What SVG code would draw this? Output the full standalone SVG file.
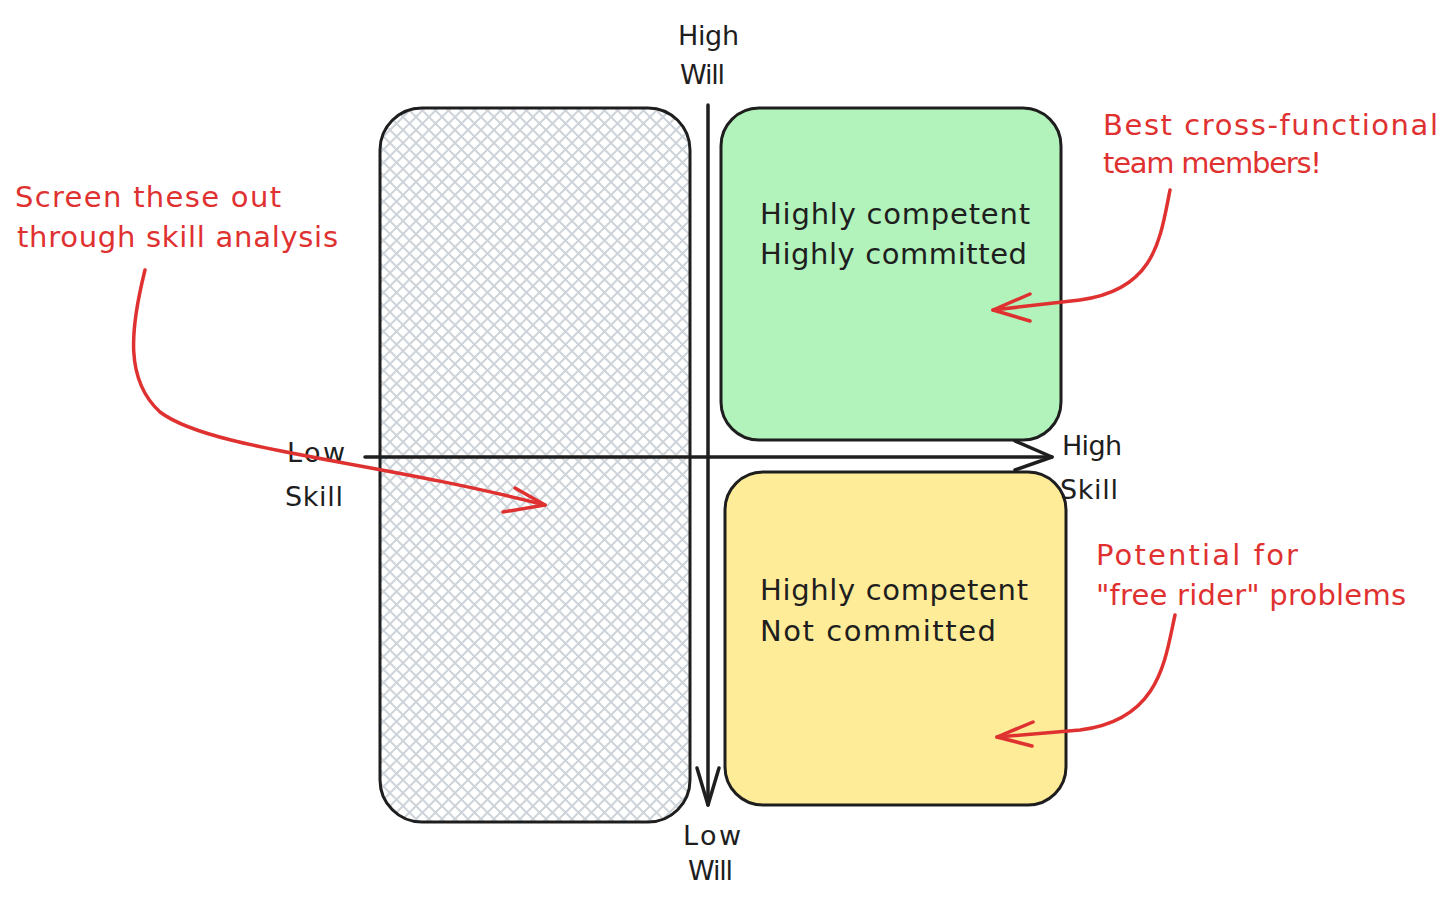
<svg xmlns="http://www.w3.org/2000/svg" width="1456" height="908" viewBox="0 0 1456 908">
<defs>
<pattern id="hatch" patternUnits="userSpaceOnUse" width="13" height="13">
<path d="M-1,-1 L14,14 M14,-1 L-1,14" stroke="#ced4da" stroke-width="2" fill="none"/>
</pattern>
<style>
.box{stroke:#1e1e1e;stroke-width:3}
.t{font-family:"DejaVu Sans","Liberation Sans",sans-serif;font-size:29px;fill:#1e1e1e}
.ax{font-family:"DejaVu Sans","Liberation Sans",sans-serif;font-size:27px;fill:#1e1e1e}
.r{font-family:"DejaVu Sans","Liberation Sans",sans-serif;font-size:29px;fill:#e03131}
.line{stroke:#1e1e1e;stroke-width:3.5;fill:none;stroke-linecap:round;stroke-linejoin:round}
.rl{stroke:#e03131;stroke-width:3.5;fill:none;stroke-linecap:round;stroke-linejoin:round}
</style>
</defs>
<rect width="1456" height="908" fill="#ffffff"/>
<g id="low-skill-box">
<rect x="380" y="108" width="310" height="714" rx="42" fill="url(#hatch)" class="box"/>
</g>
<g id="green-box">
<rect x="721" y="108" width="340" height="332" rx="38" fill="#b2f2bb" class="box"/>
<text class="t" x="760" y="224" textLength="270" lengthAdjust="spacing">Highly competent</text>
<text class="t" x="760" y="264" textLength="267" lengthAdjust="spacing">Highly committed</text>
</g>
<g id="yellow-box">
<rect x="725" y="472" width="341" height="333" rx="38" fill="#ffec99" class="box"/>
<text class="t" x="760" y="600" textLength="268" lengthAdjust="spacing">Highly competent</text>
<text class="t" x="760" y="641" textLength="236" lengthAdjust="spacing">Not committed</text>
</g>
<g id="axis-labels">
<text class="ax" x="678" y="45" textLength="61" lengthAdjust="spacing">High</text>
<text class="ax" x="680" y="84" textLength="45" lengthAdjust="spacing">Will</text>
<text class="ax" x="287" y="462" textLength="58" lengthAdjust="spacing">Low</text>
<text class="ax" x="285" y="506" textLength="58" lengthAdjust="spacing">Skill</text>
<text class="ax" x="1062" y="455" textLength="60" lengthAdjust="spacing">High</text>
<text class="ax" x="1060" y="499" textLength="58" lengthAdjust="spacing">Skill</text>
<text class="ax" x="683" y="845" textLength="58" lengthAdjust="spacing">Low</text>
<text class="ax" x="688" y="880" textLength="45" lengthAdjust="spacing">Will</text>
</g>
<g id="annotations">
<text class="r" x="15" y="207" textLength="266" lengthAdjust="spacing">Screen these out</text>
<text class="r" x="17" y="247" textLength="321" lengthAdjust="spacing">through skill analysis</text>
<text class="r" x="1103" y="135" textLength="335" lengthAdjust="spacing">Best cross-functional</text>
<text class="r" x="1103" y="173" textLength="219" lengthAdjust="spacing">team members!</text>
<text class="r" x="1096" y="565" textLength="202" lengthAdjust="spacing">Potential for</text>
<text class="r" x="1096" y="605" textLength="310" lengthAdjust="spacing">"free rider" problems</text>
</g>
<g id="connectors">
<path class="line" d="M708,105 L708,805"/>
<path class="line" d="M697,768 L708,805 L719,768"/>
<path class="line" d="M365,457 L1052,457"/>
<path class="line" d="M1015,441 L1052,457 L1015,470"/>
<path class="rl" d="M145,270 C130,330 125,380 160,412 C210,450 370,460 545,505"/>
<path class="rl" d="M515,488 L545,505 L503,512"/>
<path class="rl" d="M1170,190 C1160,240 1155,290 1080,300 L993,310"/>
<path class="rl" d="M1030,294 L993,310 L1030,321"/>
<path class="rl" d="M1175,615 C1165,660 1160,720 1080,730 L997,737"/>
<path class="rl" d="M1033,722 L997,737 L1032,746"/>
</g>
</svg>
